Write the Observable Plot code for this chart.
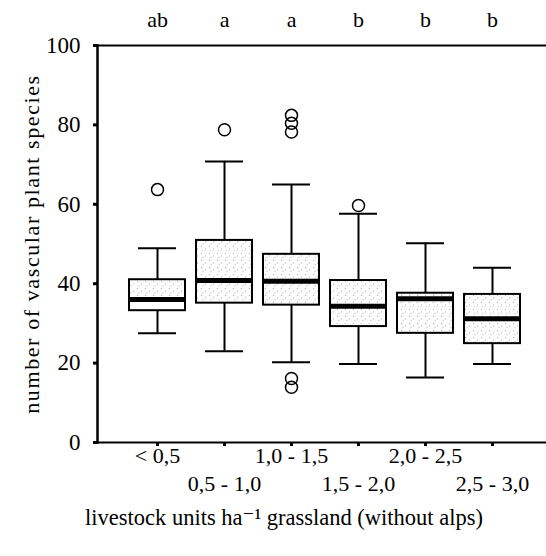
<!DOCTYPE html>
<html>
<head>
<meta charset="utf-8">
<script src="https://cdn.jsdelivr.net/npm/d3@7"></script>
<script src="https://cdn.jsdelivr.net/npm/@observablehq/plot@0.6"></script>
<style>
  html, body { margin: 0; padding: 0; background: #fff; }
  #chart svg { display: block; }
  #chart svg text { font-family: "Liberation Serif", "DejaVu Serif", serif; }
</style>
</head>
<body>
<div id="chart"></div>
<script>
const categories = ["< 0,5", "0,5 - 1,0", "1,0 - 1,5", "1,5 - 2,0", "2,0 - 2,5", "2,5 - 3,0"];
const letters = ["ab", "a", "a", "b", "b", "b"];
const lowerWhisker = [27.5, 23.0, 20.2, 19.8, 16.4, 19.8];
const q1 = [33.2, 35.1, 34.6, 29.2, 27.5, 24.9];
const median = [36.0, 40.8, 40.6, 34.3, 36.2, 31.2];
const q3 = [41.0, 50.9, 47.4, 40.8, 37.6, 37.3];
const upperWhisker = [48.9, 70.8, 65.0, 57.6, 50.2, 44.0];
const outlierCategory = [0, 1, 2, 2, 2, 2, 2, 3];
const outlierValue = [63.7, 78.8, 82.4, 80.4, 78.2, 16.1, 13.9, 59.7];
const yTicks = [0, 20, 40, 60, 80, 100];
const yLabel = "number of vascular plant species";
const xLabel = "livestock units ha\u207B\u00B9 grassland (without alps)";

const boxes = categories.map((c, i) => ({
  cat: c, lo: lowerWhisker[i], q1: q1[i], med: median[i], q3: q3[i], hi: upperWhisker[i], letter: letters[i], i
}));
const outliers = outlierCategory.map((k, i) => ({cat: categories[k], v: outlierValue[i]}));

const font = "Liberation Serif";

const plot = Plot.plot({
  width: 546,
  height: 556,
  marginLeft: 97,
  marginRight: 0,
  marginTop: 45,
  marginBottom: 114,
  style: {fontFamily: font, fontSize: "22px", color: "#000", background: "#fff"},
  x: {domain: categories, range: [118, 532], padding: 0.16, axis: null},
  y: {domain: [0, 100], axis: null},
  marks: [
    // frame lines
    Plot.ruleY([100], {stroke: "#000", strokeWidth: 2}),
    Plot.ruleY([0], {stroke: "#000", strokeWidth: 2}),
    Plot.frame({anchor: "left", stroke: "#000", strokeWidth: 2.5}),
    // y ticks & labels
    Plot.axisY(yTicks, {tickSize: 4, tickPadding: 13, strokeWidth: 3, fontSize: 23, fontFamily: font, tickFormat: d => d, label: null}),
    // x ticks
    Plot.axisX({tickSize: 4, strokeWidth: 3, tickFormat: () => "", label: null}),
    // whiskers
    Plot.ruleX(boxes, {x: "cat", y1: "lo", y2: "q1", stroke: "#000", strokeWidth: 2}),
    Plot.ruleX(boxes, {x: "cat", y1: "q3", y2: "hi", stroke: "#000", strokeWidth: 2}),
    Plot.tickY(boxes, {x: "cat", y: "lo", inset: 9, stroke: "#000", strokeWidth: 2}),
    Plot.tickY(boxes, {x: "cat", y: "hi", inset: 9, stroke: "#000", strokeWidth: 2}),
    // boxes (upper and lower halves)
    Plot.barY(boxes, {x: "cat", y1: "med", y2: "q3", fill: "url(#stipple)"}),
    Plot.barY(boxes, {x: "cat", y1: "q1", y2: "med", fill: d => d.i === 0 ? "white" : "url(#stipple)"}),
    Plot.barY(boxes, {x: "cat", y1: "q1", y2: "q3", fill: "none", stroke: "#000", strokeWidth: 2}),
    // median
    Plot.tickY(boxes, {x: "cat", y: "med", stroke: "#000", strokeWidth: 5}),
    // outliers
    Plot.dot(outliers, {x: "cat", y: "v", r: 6, stroke: "#000", strokeWidth: 1.5, fill: "none"}),
    // letters
    Plot.text(boxes, {x: "cat", y: () => 100, text: "letter", dy: -26, fontSize: 22, fontFamily: font, lineAnchor: "middle"}),
    // x tick labels, staggered
    Plot.text(boxes.filter((d, i) => i % 2 === 0), {x: "cat", text: "cat", frameAnchor: "bottom", lineAnchor: "middle", dy: 13, fontSize: 22, fontFamily: font}),
    Plot.text(boxes.filter((d, i) => i % 2 === 1), {x: "cat", text: "cat", frameAnchor: "bottom", lineAnchor: "middle", dy: 41, fontSize: 22, fontFamily: font}),
    // axis titles
    Plot.text([xLabel], {frameAnchor: "bottom", lineAnchor: "middle", textAnchor: "middle", dx: -38, dy: 75, fontSize: 22.5, fontFamily: font}),
    Plot.text([yLabel], {frameAnchor: "left", textAnchor: "middle", lineAnchor: "middle", rotate: -90, dx: -66, fontSize: 22, fontFamily: font})
  ]
});

// stipple pattern for box fill
const svg = d3.select(plot);
const defs = svg.insert("defs", ":first-child");
const pat = defs.append("pattern")
  .attr("id", "stipple")
  .attr("patternUnits", "userSpaceOnUse")
  .attr("width", 8).attr("height", 7);
pat.append("rect").attr("width", 8).attr("height", 7).attr("fill", "#fff");
[[1, 1], [5, 3.5], [2.5, 5.2]].forEach(([cx, cy]) =>
  pat.append("rect").attr("x", cx).attr("y", cy).attr("width", 1).attr("height", 1).attr("fill", "#a8a8a8"));

// wider tracking on the vertical axis title, as in the reference
svg.selectAll("text").filter(function () { return this.textContent === yLabel; })
  .style("letter-spacing", "1.6px");

document.getElementById("chart").appendChild(plot);
</script>
</body>
</html>
